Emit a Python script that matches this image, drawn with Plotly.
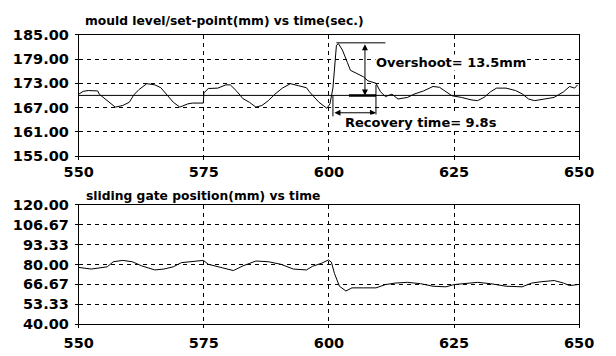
import plotly.graph_objects as go

# ---- data ----
time_level = [550, 550.9, 551.9, 553.8, 554.1, 555.7, 557.3, 558.8, 560.1, 561, 562, 563.6, 565.2, 566.4,
              567.7, 568.9, 570.2, 571.8, 572.7, 574.9, 575, 575.9, 577.8, 579.4, 580.3, 581.6, 582.8,
              584.1, 585.4, 586.6, 587.9, 589.2, 590.7, 592.3, 593.9, 595.5, 596.1, 598, 599.6, 600.2,
              600.8, 601.5, 601.9, 602.7, 603.7, 604.3, 605.6, 606.9, 607.8, 609.4, 610.3, 611.3, 612.6,
              613.8, 615.7, 617, 618.9, 620.8, 622.1, 623.4, 624.6, 626.5, 628.4, 629.7, 631, 632.3,
              633.5, 635.4, 637.3, 638.6, 639.9, 641.1, 643, 645, 646.9, 648.1, 649.1, 649.7]
mould_level = [170.3, 171.0, 171.2, 171.1, 170.3, 168.7, 167.1, 167.5, 168.3, 170.1, 171.4, 172.9, 172.6, 171.9,
               169.9, 168.3, 167.1, 167.9, 168.1, 168.1, 170.6, 171.7, 171.8, 172.6, 172.6, 171.0, 169.2,
               168.3, 167.1, 167.5, 168.7, 170.3, 171.8, 172.9, 172.4, 171.9, 170.9, 168.3, 166.8, 167.9,
               171.8, 182.4, 182.8, 181.2, 178.1, 176.2, 175.4, 174.6, 173.6, 173.0, 170.9, 169.7, 170.3,
               169.1, 169.5, 170.3, 171.1, 172.2, 172.0, 170.9, 169.9, 169.5, 168.9, 168.7, 169.5, 170.9,
               171.8, 171.8, 171.2, 170.4, 169.1, 168.7, 169.1, 169.5, 170.9, 172.2, 171.8, 172.6]
set_point = 170.0

time_gate = [550, 552.5, 555.7, 556.9, 558.8, 560.7, 562.6, 565.2, 567, 568.9, 570.5, 572.7, 574.9, 575.9,
             578.4, 580.9, 582.8, 585.4, 587.9, 590.4, 592.9, 595.5, 596.7, 598.6, 599.9, 600.5, 601.1,
             602.1, 603.4, 604.6, 606.9, 609.4, 611.3, 613.2, 615.7, 618.3, 620.8, 623.4, 625, 627.2,
             629.7, 632.3, 635.4, 638.6, 640.5, 642.4, 645, 646.9, 648.1, 649.7]
gate_position = [78.0, 76.9, 78.4, 81.8, 82.7, 81.8, 79.0, 76.3, 76.9, 78.4, 81.2, 81.8, 82.7, 80.1,
                 78.0, 75.9, 79.0, 82.3, 81.8, 80.1, 76.9, 76.3, 78.7, 80.9, 83.0, 81.5, 74.0,
                 65.4, 62.2, 64.3, 64.3, 64.3, 66.5, 67.5, 68.0, 67.1, 65.4, 65.0, 66.5, 67.1,
                 68.0, 67.1, 65.4, 65.0, 67.5, 68.4, 69.2, 67.5, 65.8, 66.5]

x_ticks = [550, 575, 600, 625, 650]
level_ticks = [155, 161, 167, 173, 179, 185]
gate_ticks = [40 + 80 / 6 * i for i in range(7)]

# annotation values
disturb_t = 600.8
recovery_t = 609.4
peak_level = 183.0
overshoot_x = 607.2
recovery_arrow_y = 165.7
recovery_line_bottom = 164.8

FONT = "DejaVu Sans"
fig = go.Figure()
fig.add_trace(go.Scatter(x=[550, 650], y=[set_point, set_point], mode="lines",
                         line=dict(color="black", width=1), xaxis="x", yaxis="y", showlegend=False))
fig.add_trace(go.Scatter(x=time_level, y=mould_level, mode="lines",
                         line=dict(color="black", width=1), xaxis="x", yaxis="y", showlegend=False))
fig.add_trace(go.Scatter(x=time_gate, y=gate_position, mode="lines",
                         line=dict(color="black", width=1), xaxis="x2", yaxis="y2", showlegend=False))

tick_font = dict(family=FONT, size=14.5, color="black", weight="bold")
axis_common = dict(showline=True, linecolor="black", linewidth=1, mirror=True,
                   showgrid=True, gridcolor="black", gridwidth=1, griddash="4px,4px",
                   ticks="outside", ticklen=3, tickcolor="black", zeroline=False,
                   tickfont=tick_font)

dom_x = [67 / 616, 593 / 616]
fig.update_layout(
    width=616, height=356, margin=dict(l=0, r=0, t=0, b=0),
    paper_bgcolor="white", plot_bgcolor="white",
    xaxis=dict(domain=dom_x, range=[550, 650], tickvals=x_ticks, anchor="y", **axis_common),
    yaxis=dict(domain=[1 - 155 / 356, 1 - 28 / 356], range=[155, 185], tickvals=level_ticks,
               ticktext=[f"{v:.2f}" for v in level_ticks], anchor="x", ticklabelstandoff=3, **axis_common),
    xaxis2=dict(domain=dom_x, range=[550, 650], tickvals=x_ticks, anchor="y2", ticklabelstandoff=2,
                **axis_common),
    yaxis2=dict(domain=[1 - 331 / 356, 1 - 206 / 356], range=[40, 120], tickvals=gate_ticks,
                ticktext=[f"{v:.2f}" for v in gate_ticks], anchor="x2", ticklabelstandoff=3, **axis_common),
)

title_font = dict(family=FONT, size=12.3, color="black", weight="bold")
fig.add_annotation(text="mould level/set-point(mm) vs time(sec.)", xref="paper", yref="paper",
                   x=72 / 616, y=1 - 14 / 356, xanchor="left", yanchor="middle", showarrow=False, font=title_font)
fig.add_annotation(text="sliding gate position(mm) vs time", xref="paper", yref="paper",
                   x=73 / 616, y=1 - 197 / 356, xanchor="left", yanchor="middle", showarrow=False, font=title_font)

# overshoot annotation lines
line_k = dict(color="black", width=1)
fig.add_shape(type="line", xref="x", yref="y", x0=601.5, x1=611.3, y0=peak_level, y1=peak_level, line=line_k)
fig.add_shape(type="line", xref="x", yref="y", x0=604, x1=recovery_t, y0=set_point, y1=set_point,
              line=dict(color="black", width=2.5))
fig.add_annotation(x=overshoot_x, y=set_point, ax=overshoot_x, ay=peak_level, xref="x", yref="y",
                   axref="x", ayref="y", showarrow=True, arrowhead=2, arrowside="start+end",
                   arrowwidth=1, arrowsize=1.2, arrowcolor="black", text="")
# recovery lines
fig.add_shape(type="line", xref="x", yref="y", x0=disturb_t, x1=disturb_t, y0=recovery_line_bottom,
              y1=set_point, line=line_k)
fig.add_shape(type="line", xref="x", yref="y", x0=recovery_t, x1=recovery_t, y0=recovery_line_bottom,
              y1=172.6, line=line_k)
fig.add_annotation(x=recovery_t, y=recovery_arrow_y, ax=disturb_t, ay=recovery_arrow_y, xref="x", yref="y",
                   axref="x", ayref="y", showarrow=True, arrowhead=2, arrowside="start+end",
                   arrowwidth=1, arrowsize=1.2, arrowcolor="black", text="")

label_font = dict(family=FONT, size=13, color="black", weight="bold")
fig.add_annotation(text="Overshoot= 13.5mm", x=609.3, y=178.1, xref="x", yref="y", xanchor="left",
                   yanchor="middle", showarrow=False, font=label_font, bgcolor="white", borderpad=0)
fig.add_annotation(text="Recovery time= 9.8s", x=603.0, y=163.2, xref="x", yref="y", xanchor="left",
                   yanchor="middle", showarrow=False, font=label_font, bgcolor="white", borderpad=0)

fig.write_html("out.html")
